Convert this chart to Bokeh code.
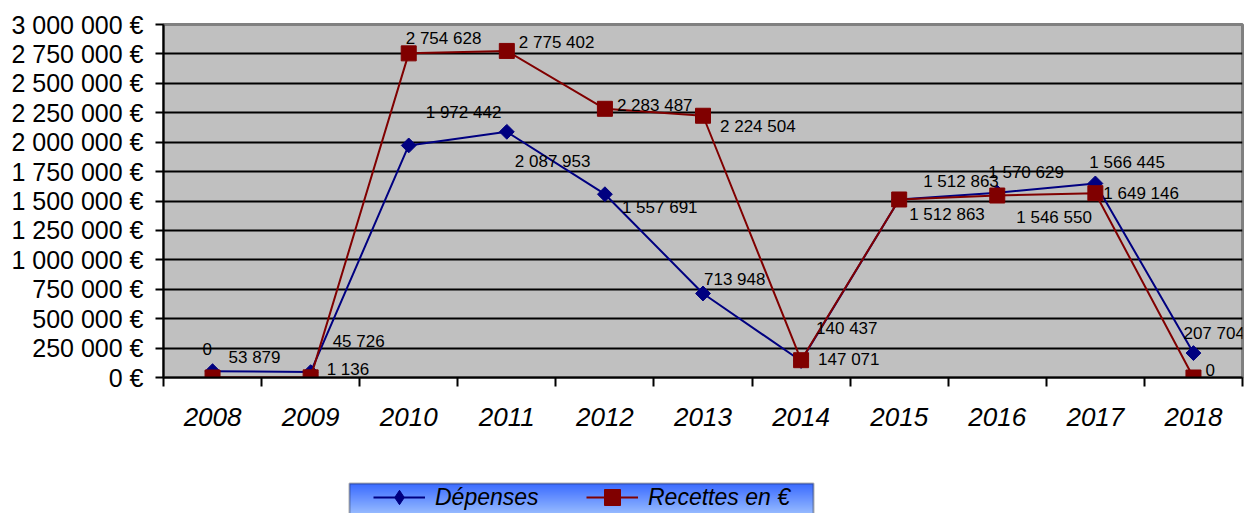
import math
import numpy as np
from bokeh.plotting import figure
from bokeh.layouts import column
from bokeh.models import (ColumnDataSource, FixedTicker, Legend, LegendItem,
                          LabelSet, Range1d, BoxAnnotation)
from bokeh.core.properties import value
from bokeh.embed import file_html
from bokeh.resources import INLINE

# Annual figures, in euros
years = ["2008", "2009", "2010", "2011", "2012", "2013",
         "2014", "2015", "2016", "2017", "2018"]
depenses = [53879, 45726, 1972442, 2087953, 1557691, 713948,
            140437, 1512863, 1570629, 1649146, 207704]
recettes = [0, 1136, 2754628, 2775402, 2283487, 2224504,
            147071, 1512863, 1546550, 1566445, 0]
y_ticks = [0, 250000, 500000, 750000, 1000000, 1250000, 1500000,
           1750000, 2000000, 2250000, 2500000, 2750000, 3000000]

# Pixel offsets of each value label from its point (label left edge / middle)
dep_dx = [16, 22, 17, 8, 17, 1, 15, 24, -9, 8, -10]
dep_dy = [14, 31, 33, -30, -13, 14, 32, 18, 20, -10, 20]
rec_dx = [-10, 16, -3, 12, 12, 17, 17, 10, 19, -6, 12]
rec_dy = [29, 8, 15, 8, 3, -11, 1, -15, -22, 31, 8]


def fmt(v):
    return f"{v:,}".replace(",", " ")


FONT = "Liberation Sans"
BLUE = "#000080"
RED = "#800000"

xs = list(range(len(years)))

dep_src = ColumnDataSource(dict(
    x=xs, y=depenses, label=[fmt(v) for v in depenses], dx=dep_dx, dy=dep_dy))
rec_src = ColumnDataSource(dict(
    x=xs, y=recettes, label=[fmt(v) for v in recettes], dx=rec_dx, dy=rec_dy))

# ---- main chart ----
p = figure(width=1260, height=470, output_backend="svg", toolbar_location=None,
           x_range=Range1d(-0.5, len(years) - 0.5),
           y_range=Range1d(0, 3000000),
           min_border_left=163, min_border_right=18,
           min_border_top=24, min_border_bottom=93)

p.border_fill_color = "white"
p.background_fill_color = "#c0c0c0"
p.outline_line_color = "#808080"
p.outline_line_width = 3

# x axis: category boundaries as ticks, years centred between them
xa = p.xaxis[0]
xa.ticker = FixedTicker(ticks=xs, minor_ticks=[i - 0.5 for i in range(len(years) + 1)])
xa.major_label_overrides = {i: y for i, y in enumerate(years)}
xa.major_tick_line_color = None
xa.minor_tick_in = 0
xa.minor_tick_out = 9
xa.minor_tick_line_color = "black"
xa.minor_tick_line_width = 2
xa.axis_line_color = "black"
xa.axis_line_width = 2
xa.major_label_text_font = FONT
xa.major_label_text_font_style = "italic"
xa.major_label_text_font_size = "26px"
xa.major_label_text_color = "black"
xa.major_label_standoff = 21

ya = p.yaxis[0]
ya.ticker = FixedTicker(ticks=y_ticks)
ya.major_label_overrides = {v: fmt(v) + " €" for v in y_ticks}
ya.major_tick_in = 0
ya.major_tick_out = 8
ya.major_tick_line_color = "black"
ya.major_tick_line_width = 2
ya.minor_tick_line_color = None
ya.axis_line_color = "black"
ya.axis_line_width = 2
ya.major_label_text_font = FONT
ya.major_label_text_font_size = "25px"
ya.major_label_text_color = "black"
ya.major_label_standoff = 12

p.xgrid.grid_line_color = None
p.ygrid.ticker = FixedTicker(ticks=y_ticks[1:-1])
p.ygrid.grid_line_color = "black"
p.ygrid.grid_line_width = 2

p.line("x", "y", source=dep_src, line_color=BLUE, line_width=2)
p.scatter("x", "y", source=dep_src, marker="square", angle=math.pi / 4,
          size=10.5, fill_color=BLUE, line_color=BLUE)
p.line("x", "y", source=rec_src, line_color=RED, line_width=2)
p.scatter("x", "y", source=rec_src, marker="square", size=15,
          fill_color=RED, line_color=RED)

for src in (dep_src, rec_src):
    p.add_layout(LabelSet(x="x", y="y", text="label", source=src,
                          x_offset="dx", y_offset="dy",
                          text_font=value(FONT), text_font_size="17px",
                          text_color="black", text_baseline="middle",
                          text_align="left"))

# ---- legend strip (pixel-unit ranges, frame aligned with the chart) ----
lg = figure(width=1260, height=43, output_backend="svg", toolbar_location=None,
            x_range=Range1d(163, 1242), y_range=Range1d(0, 43),
            x_axis_location=None, y_axis_location=None,
            min_border_left=163, min_border_right=18,
            min_border_top=0, min_border_bottom=0)
lg.outline_line_color = None
lg.background_fill_color = "white"
lg.border_fill_color = "white"
lg.xgrid.visible = False
lg.ygrid.visible = False

# blue vertical gradient behind the legend entries
top_rgb = np.array([0x3c, 0x6c, 0xff], dtype=float)
bot_rgb = np.array([0xa8, 0xca, 0xff], dtype=float)
rows = 36
t = np.linspace(0.0, 1.0, rows)[:, None]
cols = (bot_rgb * (1 - t) + top_rgb * t).astype(np.uint32)  # row 0 is the bottom
img = np.empty((rows, 1), dtype=np.uint32)
img[:, 0] = (255 << 24) | (cols[:, 2] << 16) | (cols[:, 1] << 8) | cols[:, 0]
lg.image_rgba(image=[img], x=349, y=-6, dw=464, dh=36)
lg.add_layout(BoxAnnotation(left=349, right=813, bottom=-6, top=30,
                            fill_alpha=0, line_color="black", line_width=2))

# the series drawn again here only to give the legend its samples;
# their values lie outside this strip's ranges, so nothing shows in it
leg_dep_line = lg.line("x", "y", source=dep_src, line_color=BLUE, line_width=2)
leg_dep_mark = lg.scatter("x", "y", source=dep_src, marker="diamond",
                          fill_color=BLUE, line_color=BLUE)
leg_rec_line = lg.line("x", "y", source=rec_src, line_color=RED, line_width=2)
leg_rec_mark = lg.scatter("x", "y", source=rec_src, marker="square",
                          fill_color=RED, line_color=RED)


def make_legend(label, renderers, x0, gh):
    leg = Legend(items=[LegendItem(label=label, renderers=renderers)],
                 location=(x0 - 163, 16 - gh / 2))
    leg.label_text_font = FONT
    leg.label_text_font_style = "italic"
    leg.label_text_font_size = "23px"
    leg.label_text_color = "black"
    leg.glyph_width = 52
    leg.glyph_height = gh
    leg.label_height = gh
    leg.label_standoff = 10
    leg.padding = 0
    leg.margin = 0
    leg.border_line_color = None
    leg.background_fill_alpha = 0
    return leg


lg.add_layout(make_legend("Dépenses", [leg_dep_line, leg_dep_mark], 373, 36))
lg.add_layout(make_legend("Recettes en €", [leg_rec_line, leg_rec_mark], 586, 40))

layout = column(p, lg, spacing=0)
open("out.html", "w").write(file_html(layout, INLINE))
